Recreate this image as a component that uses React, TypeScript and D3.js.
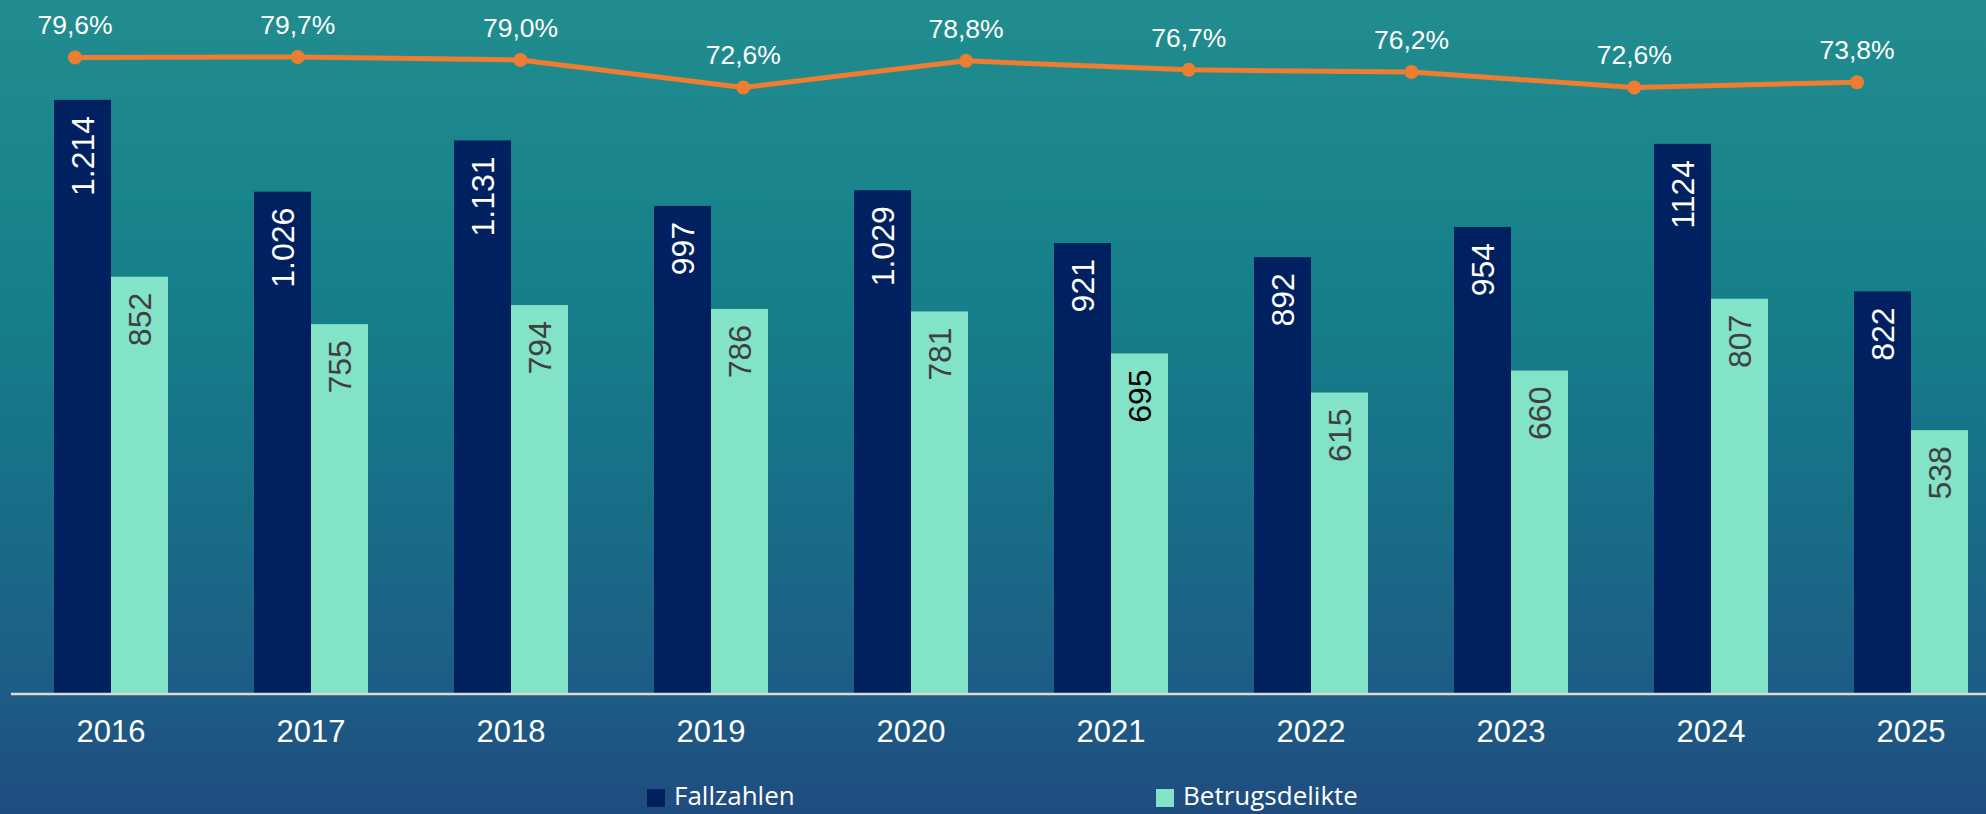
import React from "react";
import * as d3 from "d3";

const years = ["2016", "2017", "2018", "2019", "2020", "2021", "2022", "2023", "2024", "2025"];
const fallzahlen = [1214, 1026, 1131, 997, 1029, 921, 892, 954, 1124, 822];
const fallzahlenLabels = ["1.214", "1.026", "1.131", "997", "1.029", "921", "892", "954", "1124", "822"];
const betrugsdelikte = [852, 755, 794, 786, 781, 695, 615, 660, 807, 538];
const quote = [79.6, 79.7, 79.0, 72.6, 78.8, 76.7, 76.2, 72.6, 73.8];
const seriesNames = ["Fallzahlen", "Betrugsdelikte"];

const W = 1986;
const H = 814;
const NAVY = "#002060";
const MINT = "#82E3C8";
const ORANGE = "#ED7D31";
const NUM_FONT = "'Liberation Sans', Arial, sans-serif";

export default function App() {
  const x = d3.scaleBand<string>().domain(years).range([11, 2011]).paddingInner(0.43).paddingOuter(0.215);
  const xSub = d3.scaleBand<string>().domain(seriesNames).range([0, x.bandwidth()]);
  const y = d3.scaleLinear().domain([0, 1400]).range([693, 9]);
  const xLine = d3.scalePoint<number>().domain(quote.map((_, i) => i)).range([75, 1857]);
  const yLine = d3.scaleLinear().domain([-68.7, 90.9]).range([693, 9]);
  const fmtPct = (v: number) => d3.format(".1f")(v).replace(".", ",") + "%";
  const line = d3
    .line<number>()
    .x((_, i) => xLine(i) as number)
    .y((d) => yLine(d));

  const series = [
    { name: seriesNames[0], values: fallzahlen, labels: fallzahlenLabels, color: NAVY },
    { name: seriesNames[1], values: betrugsdelikte, labels: betrugsdelikte.map(String), color: MINT },
  ];

  return (
    <svg
      width={W}
      height={H}
      viewBox={`0 0 ${W} ${H}`}
      style={{ position: "absolute", left: 0, top: 0, display: "block" }}
    >
      <defs>
        <linearGradient id="bg" x1="0" y1="0" x2="0" y2="1">
          <stop offset="0" stopColor="#218D8F" />
          <stop offset="0.35" stopColor="#15808A" />
          <stop offset="0.62" stopColor="#186E87" />
          <stop offset="0.85" stopColor="#1D5C85" />
          <stop offset="1" stopColor="#1F4C7F" />
        </linearGradient>
      </defs>
      <rect x={0} y={0} width={W} height={H} fill="url(#bg)" />

      {series.map((s) =>
        years.map((yr, i) => {
          const bx = (x(yr) as number) + (xSub(s.name) as number);
          const by = y(s.values[i]);
          const bw = xSub.bandwidth();
          const cx = bx + bw / 2;
          const isMint = s.color === MINT;
          const labelFill = isMint ? (yr === "2021" ? "#000000" : "#404040") : "#FFFFFF";
          return (
            <g key={s.name + yr}>
              <rect x={bx} y={by} width={bw} height={y(0) - by} fill={s.color} />
              <text
                transform={`translate(${cx},${by + 16}) rotate(-90)`}
                textAnchor="end"
                dy="0.36em"
                fontFamily={NUM_FONT}
                fontSize={32}
                fill={labelFill}
              >
                {s.labels[i]}
              </text>
            </g>
          );
        })
      )}

      <line x1={11} x2={W} y1={694} y2={694} stroke="#D9D9D9" strokeWidth={2.5} />

      {years.map((yr) => (
        <text
          key={"t" + yr}
          x={(x(yr) as number) + x.bandwidth() / 2}
          y={742}
          textAnchor="middle"
          fontFamily={NUM_FONT}
          fontSize={31}
          fill="#FFFFFF"
        >
          {yr}
        </text>
      ))}

      <path d={line(quote) || ""} fill="none" stroke={ORANGE} strokeWidth={5} strokeLinejoin="round" />
      {quote.map((q, i) => (
        <g key={"q" + i}>
          <circle cx={xLine(i)} cy={yLine(q)} r={7} fill={ORANGE} />
          <text
            x={xLine(i)}
            y={yLine(q) - 23}
            textAnchor="middle"
            fontFamily={NUM_FONT}
            fontSize={26.5}
            fill="#FFFFFF"
          >
            {fmtPct(q)}
          </text>
        </g>
      ))}

      {series.map((s, i) => {
        const lx = i === 0 ? 647 : 1156;
        return (
          <g key={"lg" + s.name}>
            <rect x={lx} y={789} width={18} height={18} fill={s.color} />
            <text x={lx + 27} y={805} fontFamily="'Open Sans', sans-serif" fontSize={26} fill="#FFFFFF">
              {s.name}
            </text>
          </g>
        );
      })}
    </svg>
  );
}
